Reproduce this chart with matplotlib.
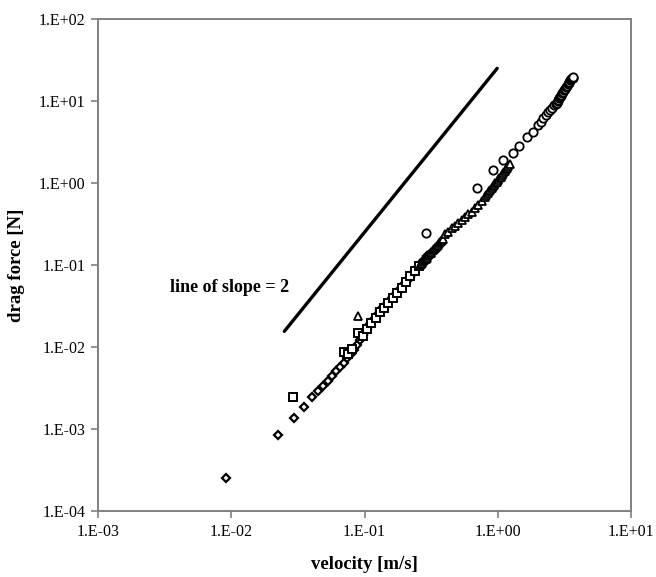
import matplotlib
matplotlib.use("Agg")
import matplotlib.pyplot as plt
from matplotlib.ticker import FixedLocator, FixedFormatter, NullLocator

# ---- data ----
diam_v = [0.0092, 0.0223, 0.0296, 0.0353, 0.0407, 0.045, 0.0491, 0.053, 0.057, 0.0611,
          0.0655, 0.0702, 0.0743, 0.0788, 0.083, 0.088, 0.093, 0.098, 0.104, 0.110,
          0.117, 0.124, 0.131, 0.139, 0.147, 0.155, 0.165, 0.175, 0.185, 0.196,
          0.207, 0.219, 0.232, 0.247, 0.262, 0.278, 0.295]
diam_F = [2.5e-4, 8.4e-4, 1.38e-3, 1.85e-3, 2.44e-3, 2.93e-3, 3.34e-3, 3.85e-3, 4.43e-3, 5.1e-3,
          5.75e-3, 6.44e-3, 7.28e-3, 8.2e-3, 9.3e-3, 0.0107, 0.0121, 0.0139, 0.0164, 0.0191,
          0.0219, 0.0249, 0.0280, 0.0309, 0.0339, 0.0372, 0.0408, 0.0453, 0.0507, 0.0569,
          0.0638, 0.0719, 0.0807, 0.0909, 0.102, 0.114, 0.128]

sq_v = [0.0292, 0.0702, 0.0755, 0.081, 0.0894, 0.097, 0.104, 0.112, 0.121, 0.130,
        0.140, 0.151, 0.163, 0.176, 0.190, 0.205, 0.221, 0.238, 0.256]
sq_F = [2.48e-3, 8.6e-3, 8.3e-3, 9.5e-3, 0.0148, 0.0138, 0.0165, 0.0195, 0.0228, 0.0265,
        0.0300, 0.0345, 0.0395, 0.0455, 0.0530, 0.0620, 0.0725, 0.0840, 0.0970]

tri_v = [0.0898, 0.262, 0.267, 0.272, 0.277, 0.282, 0.287, 0.292, 0.297, 0.302,
         0.307, 0.313, 0.318, 0.324, 0.330, 0.336, 0.342, 0.348, 0.354, 0.36,
         0.366, 0.373, 0.380, 0.387, 0.402, 0.426, 0.451, 0.478, 0.506, 0.536,
         0.568, 0.602, 0.638, 0.676, 0.715, 0.757, 0.802, 0.82, 0.84, 0.86,
         0.88, 0.90, 0.92, 0.94, 0.96, 0.98, 1.0, 1.025, 1.05, 1.075,
         1.1, 1.125, 1.15, 1.175, 1.2, 1.23]
tri_F = [0.0239, 0.0995, 0.103, 0.107, 0.111, 0.115, 0.119, 0.123, 0.127, 0.132,
         0.136, 0.141, 0.146, 0.151, 0.156, 0.161, 0.166, 0.172, 0.177, 0.183,
         0.189, 0.195, 0.201, 0.208, 0.236, 0.255, 0.281, 0.302, 0.323, 0.352,
         0.382, 0.413, 0.447, 0.49, 0.539, 0.605, 0.681, 0.715, 0.75, 0.79,
         0.83, 0.87, 0.91, 0.95, 0.99, 1.03, 1.08, 1.14, 1.2, 1.26,
         1.33, 1.40, 1.47, 1.54, 1.62, 1.72]

circ_v = [0.290, 0.695, 0.916, 1.10, 1.294, 1.452, 1.649, 1.828, 2.014, 2.1,
          2.197, 2.3, 2.4, 2.466, 2.55, 2.65, 2.72, 2.767, 2.81, 2.85,
          2.89, 2.93, 2.97, 3.0, 3.05, 3.1, 3.15, 3.2, 3.25, 3.3,
          3.35, 3.4, 3.45, 3.5, 3.55, 3.6, 3.64, 3.67]
circ_F = [0.244, 0.861, 1.44, 1.91, 2.34, 2.83, 3.67, 4.23, 5.10, 5.6,
          6.15, 6.7, 7.3, 7.77, 8.3, 8.9, 9.1, 9.38, 9.9, 10.4,
          10.8, 11.2, 11.6, 12.0, 12.5, 13.0, 13.6, 14.2, 14.7, 15.3,
          15.9, 16.5, 17.1, 17.8, 18.4, 19.0, 19.3, 19.6]

line_v = [0.025, 0.99]
line_F = [0.0155, 25.0]

xticks = [1e-3, 1e-2, 1e-1, 1e0, 1e1]
xlabels = ["1.E-03", "1.E-02", "1.E-01", "1.E+00", "1.E+01"]
yticks = [1e-4, 1e-3, 1e-2, 1e-1, 1e0, 1e1, 1e2]
ylabels = ["1.E-04", "1.E-03", "1.E-02", "1.E-01", "1.E+00", "1.E+01", "1.E+02"]

# ---- figure ----
plt.rcParams['font.family'] = ['Liberation Serif', 'DejaVu Serif']
fig = plt.figure(figsize=(6.56, 5.77), dpi=100)
ax = fig.add_axes([98/656, 1 - 511/577, (631-98)/656, (511-19)/577])
ax.set_xscale('log')
ax.set_yscale('log')
ax.set_xlim(1e-3, 1e1)
ax.set_ylim(1e-4, 1e2)

mk = dict(linestyle='none', markerfacecolor='white', markeredgecolor='black')
ax.plot(diam_v, diam_F, marker='D', markersize=4.2, markeredgewidth=1.6, **mk)
ax.plot(sq_v, sq_F, marker='s', markersize=5.5, markeredgewidth=1.4, **mk)
ax.plot(tri_v, tri_F, marker='^', markersize=6.0, markeredgewidth=1.3, **mk)
ax.plot(circ_v, circ_F, marker='o', markersize=6.0, markeredgewidth=1.3, **mk)
ax.plot(line_v, line_F, color='black', linewidth=2.4, solid_capstyle='round')

ax.text(0.00345, 0.0525, "line of slope = 2", fontsize=13, fontweight='bold',
        ha='left', va='center')

ax.xaxis.set_major_locator(FixedLocator(xticks))
ax.xaxis.set_major_formatter(FixedFormatter(xlabels))
ax.yaxis.set_major_locator(FixedLocator(yticks))
ax.yaxis.set_major_formatter(FixedFormatter(ylabels))
ax.xaxis.set_minor_locator(NullLocator())
ax.yaxis.set_minor_locator(NullLocator())

for s in ax.spines.values():
    s.set_color('#808080')
    s.set_linewidth(1.4)
ax.tick_params(axis='both', which='major', direction='out', length=5, width=1.2,
               color='#808080', labelsize=11.5, pad=4)

ax.set_xlabel("velocity [m/s]", fontsize=13.5, fontweight='bold', labelpad=12)
ax.set_ylabel("drag force [N]", fontsize=13.5, fontweight='bold', labelpad=10)

fig.savefig("out.png", dpi=100)
